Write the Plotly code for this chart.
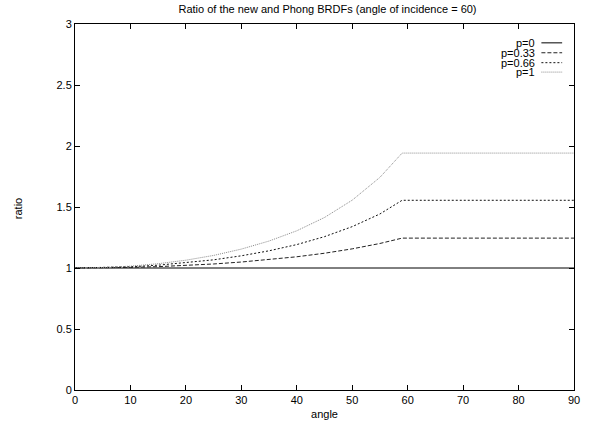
import plotly.graph_objects as go

angle = [0, 5, 10, 15, 20, 25, 30, 35, 40, 45, 50, 55, 59, 60, 70, 80, 90]
ratio_p0 = [1.0] * len(angle)
ratio_p033 = [1.0, 1.001, 1.005, 1.011, 1.021, 1.033, 1.049, 1.068, 1.092, 1.121, 1.157, 1.201, 1.245, 1.245, 1.245, 1.245, 1.245]
ratio_p066 = [1.0, 1.003, 1.010, 1.023, 1.042, 1.067, 1.100, 1.141, 1.192, 1.257, 1.339, 1.443, 1.555, 1.555, 1.555, 1.555, 1.555]
ratio_p1 = [1.0, 1.004, 1.015, 1.035, 1.064, 1.103, 1.155, 1.221, 1.305, 1.414, 1.556, 1.743, 1.942, 1.942, 1.942, 1.942, 1.942]

series_names = ["p=0", "p=0.33", "p=0.66", "p=1"]
series_vals = [ratio_p0, ratio_p033, ratio_p066, ratio_p1]
colors = ["#000000", "#222222", "#111111", "#8a8a8a"]
dashes = ["solid", "4px,2px", "2px,2px", "1px,1px"]

x_ticks = [0, 10, 20, 30, 40, 50, 60, 70, 80, 90]
y_ticks = [0, 0.5, 1, 1.5, 2, 2.5, 3]
y_ticktext = ["0", "0.5", "1", "1.5", "2", "2.5", "3"]

W, H = 589, 428
# plot area in page pixels: x 75..580, y 24..393
PL, PR, PT, PB = 75, 580, 24, 393
L, R, T, B = PL, W - PR, PT, H - PB
pw, ph = PR - PL, PB - PT

def px(xp):
    return (xp - PL) / pw

def py(yp):
    return (PB - yp) / ph

fig = go.Figure()
for name, vals, c, d in zip(series_names, series_vals, colors, dashes):
    fig.add_trace(go.Scatter(x=angle, y=vals, mode="lines", name=name,
                             line=dict(color=c, width=1, dash=d), showlegend=False,
                             hoverinfo="skip"))

font = dict(family="Liberation Sans, Arial, sans-serif", size=11, color="#000")

# gnuplot-style key: right-aligned text, sample line to the right
legend_rows_py = [43, 53, 63, 72.5]
for name, c, d, yy in zip(series_names, colors, dashes, legend_rows_py):
    fig.add_annotation(x=px(542), y=py(yy), xref="paper", yref="paper",
                       text=name, showarrow=False, xanchor="right", yanchor="middle",
                       font=font, borderpad=0)
    fig.add_shape(type="line", xref="paper", yref="paper",
                  x0=px(547), x1=px(568), y0=py(yy), y1=py(yy),
                  line=dict(color=c, width=1, dash=d))

fig.add_annotation(x=px(18), y=py(210), xref="paper", yref="paper",
                   text="ratio", showarrow=False, textangle=-90,
                   xanchor="center", yanchor="middle", font=font)

fig.update_layout(
    width=W, height=H,
    margin=dict(l=L, r=R, t=T, b=B),
    paper_bgcolor="white", plot_bgcolor="white",
    font=font,
    hovermode=False,
    title=dict(text="Ratio of the new and Phong BRDFs (angle of incidence = 60)",
               x=(PL + pw / 2) / W, xanchor="center",
               y=1 - 9 / H, yanchor="middle", font=font),
    xaxis=dict(range=[0, 90], tickvals=x_ticks, ticks="inside", ticklen=5,
               showgrid=False, zeroline=False, showline=True, linecolor="#000",
               linewidth=1, mirror="ticks", tickcolor="#000",
               title=dict(text="angle", font=font, standoff=5)),
    yaxis=dict(range=[0, 3], tickvals=y_ticks, ticktext=y_ticktext, ticks="inside",
               ticklen=5, showgrid=False, zeroline=False, showline=True,
               linecolor="#000", linewidth=1, mirror="ticks", tickcolor="#000"),
)

fig.write_html(
    "out.html",
    config={"displayModeBar": False, "staticPlot": True},
    post_script="document.body.style.margin='0';document.body.style.overflow='hidden';",
)
